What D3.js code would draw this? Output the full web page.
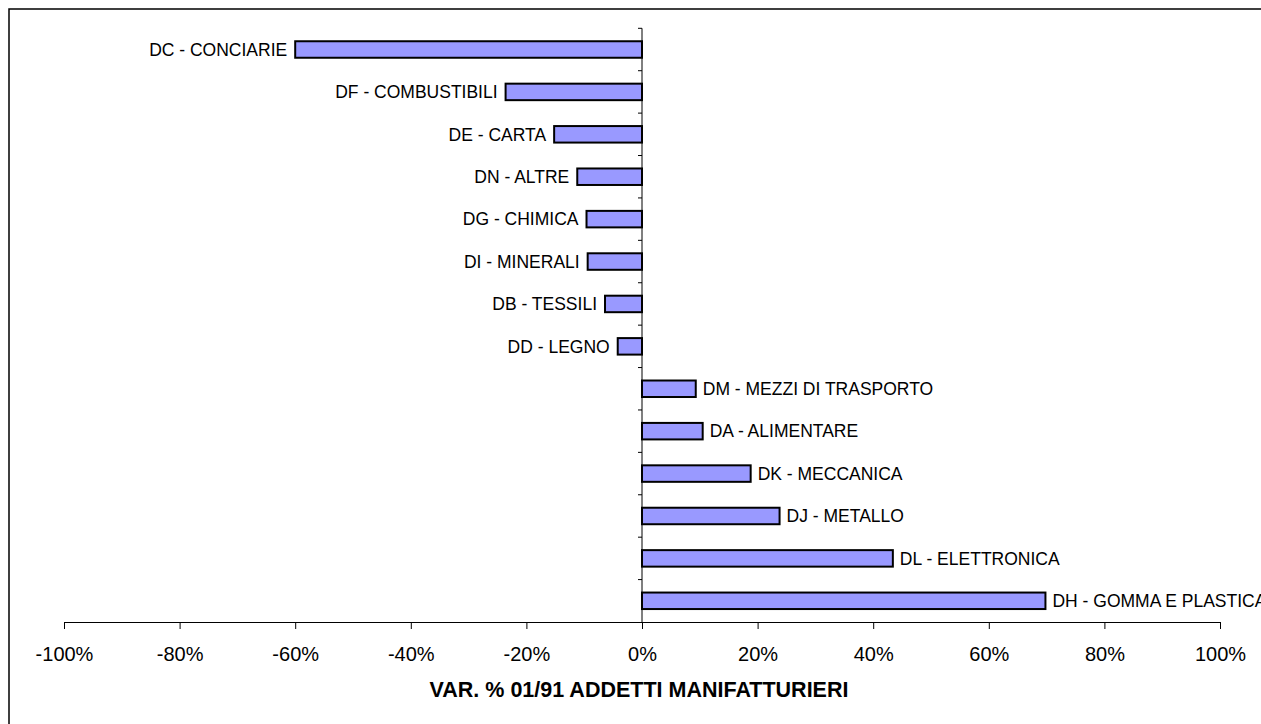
<!DOCTYPE html>
<html lang="en">
<head>
<meta charset="UTF-8">
<title>VAR. % 01/91 ADDETTI MANIFATTURIERI</title>
<script src="https://d3js.org/d3.v7.min.js"></script>
<style>
  html, body { margin: 0; padding: 0; background: #fff; }
  svg { display: block; font-family: "Liberation Sans", Arial, sans-serif; }
</style>
</head>
<body>
<script>
var categories = ["DC - CONCIARIE", "DF - COMBUSTIBILI", "DE - CARTA", "DN - ALTRE",
  "DG - CHIMICA", "DI - MINERALI", "DB - TESSILI", "DD - LEGNO",
  "DM - MEZZI DI TRASPORTO", "DA - ALIMENTARE", "DK - MECCANICA",
  "DJ - METALLO", "DL - ELETTRONICA", "DH - GOMMA E PLASTICA"];
var values = [-0.600, -0.236, -0.152, -0.112, -0.096, -0.094, -0.064, -0.042,
  0.093, 0.105, 0.188, 0.238, 0.434, 0.698];
var tickValues = [-1, -0.8, -0.6, -0.4, -0.2, 0, 0.2, 0.4, 0.6, 0.8, 1];
var axisTitle = "VAR. % 01/91 ADDETTI MANIFATTURIERI";

var width = 1261, height = 724;

var svg = d3.select("body")
  .append("svg")
  .attr("width", width)
  .attr("height", height);

// chart frame (right and bottom edges fall outside the picture)
svg.append("rect")
  .attr("x", 9)
  .attr("y", 9)
  .attr("width", 1400)
  .attr("height", 900)
  .attr("fill", "none")
  .attr("stroke", "#000")
  .attr("stroke-width", 1.5);

var x = d3.scaleLinear()
  .domain([-1, 1])
  .range([64, 1220]);

var yBand = d3.scaleBand()
  .domain(categories)
  .range([28.3, 622]);

var barH = 16.5;

// plain hyphen for negatives, like the original
var pct = function(d) { return Math.round(d * 100) + "%"; };

// x axis
var xAxis = d3.axisBottom(x)
  .tickValues(tickValues)
  .tickSize(7)
  .tickSizeOuter(0)
  .tickFormat(pct);

var gx = svg.append("g")
  .attr("transform", "translate(0," + 622 + ")")
  .call(xAxis);
gx.select(".domain").attr("stroke", "#000").attr("stroke-width", 1);
gx.selectAll(".tick line").attr("stroke", "#000");
gx.selectAll(".tick text")
  .attr("fill", "#000")
  .attr("font-size", "20px")
  .attr("dy", null)
  .attr("y", 39);

// category axis at zero: line plus ticks at band edges
svg.append("line")
  .attr("x1", x(0)).attr("x2", x(0))
  .attr("y1", yBand.range()[0]).attr("y2", yBand.range()[1])
  .attr("stroke", "#000");

var edges = categories.map(function(c) { return yBand(c); });
svg.selectAll(".ytick")
  .data(edges)
  .enter()
  .append("line")
  .attr("class", "ytick")
  .attr("x1", x(0) - 4).attr("x2", x(0))
  .attr("y1", function(d) { return d; })
  .attr("y2", function(d) { return d; })
  .attr("stroke", "#000");

// bars
svg.selectAll(".bar")
  .data(values)
  .enter()
  .append("rect")
  .attr("class", "bar")
  .attr("x", function(d) { return Math.min(x(d), x(0)); })
  .attr("y", function(d, i) { return yBand(categories[i]) + (yBand.bandwidth() - barH) / 2; })
  .attr("width", function(d) { return Math.abs(x(d) - x(0)); })
  .attr("height", barH)
  .attr("fill", "#9999ff")
  .attr("stroke", "#000")
  .attr("stroke-width", 2);

// category labels next to bar ends
svg.selectAll(".lbl")
  .data(values)
  .enter()
  .append("text")
  .attr("class", "lbl")
  .attr("x", function(d) { return d < 0 ? x(d) - 8 : x(d) + 7; })
  .attr("y", function(d, i) { return yBand(categories[i]) + yBand.bandwidth() / 2; })
  .attr("dy", "0.36em")
  .attr("text-anchor", function(d) { return d < 0 ? "end" : "start"; })
  .attr("font-size", "17.5px")
  .attr("fill", "#000")
  .text(function(d, i) { return categories[i]; });

// axis title
svg.append("text")
  .attr("x", (x.range()[0] + x.range()[1]) / 2 - 3)
  .attr("y", 697)
  .attr("text-anchor", "middle")
  .attr("font-size", "21.5px")
  .attr("font-weight", "bold")
  .attr("fill", "#000")
  .text(axisTitle);
</script>
</body>
</html>
